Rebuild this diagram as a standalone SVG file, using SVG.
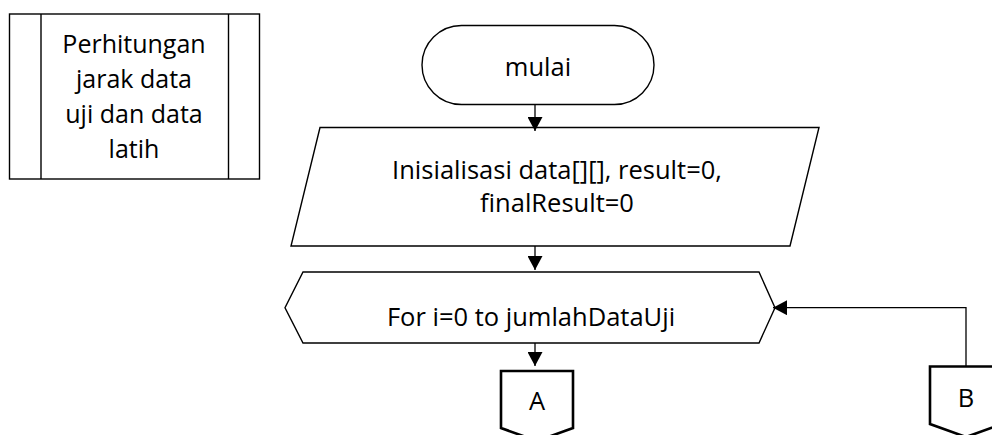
<svg xmlns="http://www.w3.org/2000/svg" width="992" height="435" viewBox="0 0 992 435">
  <style>
    .shape { fill: #ffffff; stroke: #000000; stroke-width: 1.4; stroke-linejoin: miter; }
    .conn-page { fill: #ffffff; stroke: #000000; stroke-width: 2.6; stroke-linejoin: miter; }
    .line { fill: none; stroke: #000000; stroke-width: 1.3; }
    text { font-family: "Open Sans", "Noto Sans", "Liberation Sans", sans-serif; font-size: 25.5px; fill: #000000; text-anchor: middle; }
    .side text { font-size: 25px; }
  </style>
  <defs>
    <marker id="arrow" viewBox="0 0 14 15" refX="14" refY="7.5" markerWidth="14" markerHeight="15" markerUnits="userSpaceOnUse" orient="auto">
      <path d="M0,0 L14,7.5 L0,15 Z" fill="#000000"/>
    </marker>
  </defs>

  <rect width="992" height="435" fill="#ffffff"/>

  <!-- predefined process -->
  <g id="node-subprocess" class="side">
    <rect class="shape" x="9.5" y="14" width="250" height="165"/>
    <line class="shape" x1="41" y1="14" x2="41" y2="179"/>
    <line class="shape" x1="228.5" y1="14" x2="228.5" y2="179"/>
    <text x="134" y="53">Perhitungan</text>
    <text x="134" y="88">jarak data</text>
    <text x="134" y="123">uji dan data</text>
    <text x="134" y="158">latih</text>
  </g>

  <!-- start terminator -->
  <g id="node-start">
    <rect class="shape" x="422" y="25.5" width="232" height="79" rx="39.5" ry="39.5"/>
    <text x="538" y="76">mulai</text>
  </g>

  <!-- initialisation (input/output) -->
  <g id="node-init">
    <polygon class="shape" points="320,127.5 819,127.5 790,246 291,246"/>
    <text x="557" y="179">Inisialisasi data[][], result=0,</text>
    <text x="557" y="211.5">finalResult=0</text>
  </g>

  <!-- loop preparation -->
  <g id="node-loop">
    <polygon class="shape" points="303,272 759,272 775,307.7 759,343 303,343 285,307.7"/>
    <text x="531" y="326">For i=0 to jumlahDataUji</text>
  </g>

  <!-- off-page connectors -->
  <g id="node-a">
    <polygon class="conn-page" points="501,371 573,371 573,428 537,441 501,428"/>
    <text x="537" y="410">A</text>
  </g>
  <g id="node-b">
    <polygon class="conn-page" points="930,366.5 1002,366.5 1002,424 966,437 930,424"/>
    <text x="966" y="406.5">B</text>
  </g>

  <!-- connectors -->
  <g id="connectors">
    <line class="line" x1="535" y1="105" x2="535" y2="131" marker-end="url(#arrow)"/>
    <line class="line" x1="535" y1="246" x2="535" y2="270" marker-end="url(#arrow)"/>
    <line class="line" x1="535" y1="343" x2="535" y2="366" marker-end="url(#arrow)"/>
    <polyline class="line" points="966,366.5 966,307.7 773,307.7" marker-end="url(#arrow)"/>
  </g>
</svg>
